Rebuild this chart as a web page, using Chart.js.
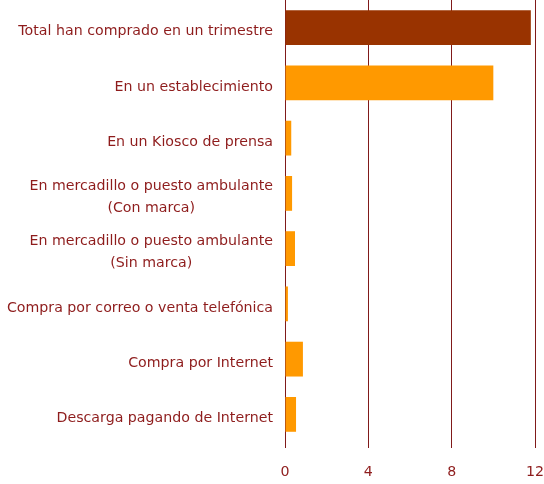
<!DOCTYPE html>
<html>
<head>
<meta charset="utf-8">
<script src="https://cdn.jsdelivr.net/npm/chart.js"></script>
<style>
html,body{margin:0;padding:0;background:#fff;}
#wrap{width:544px;height:484px;position:relative;}
</style>
</head>
<body>
<div id="wrap"><canvas id="c" width="544" height="484"></canvas></div>
<script>
const categories = [
  ["Total han comprado en un trimestre"],
  ["En un establecimiento"],
  ["En un Kiosco de prensa"],
  ["En mercadillo o puesto ambulante", "(Con marca)"],
  ["En mercadillo o puesto ambulante", "(Sin marca)"],
  ["Compra por correo o venta telefónica"],
  ["Compra por Internet"],
  ["Descarga pagando de Internet"]
];
const values = [11.8, 10.0, 0.3, 0.34, 0.48, 0.14, 0.86, 0.53];
const barColors = ["#993300", "#FF9900", "#FF9900", "#FF9900", "#FF9900", "#FF9900", "#FF9900", "#FF9900"];
const xTicks = [0, 4, 8, 12];

const TEXT = "#8E1C1C";
const GRID = "#801A1A";
const FONT_FAMILY = "'DejaVu Sans', sans-serif";
const FONT_SIZE = 14.2;

const labelPlugin = {
  id: 'centeredLabels',
  afterDraw(chart) {
    const y = chart.scales.y;
    const ctx = chart.ctx;
    ctx.save();
    ctx.font = FONT_SIZE + "px " + FONT_FAMILY;
    ctx.fillStyle = TEXT;
    ctx.textAlign = 'center';
    ctx.textBaseline = 'middle';
    const right = chart.chartArea.left - 12;
    const lh = 22;
    categories.forEach((lines, i) => {
      const cy = y.getPixelForValue(i) + 4;
      const w = Math.max(...lines.map(l => ctx.measureText(l).width));
      const cx = right - w / 2;
      const top = cy - (lines.length - 1) * lh / 2;
      lines.forEach((l, j) => ctx.fillText(l, cx, top + j * lh));
    });
    ctx.restore();
  }
};

new Chart(document.getElementById('c'), {
  type: 'bar',
  data: {
    labels: categories.map(l => l.join(' ')),
    datasets: [{
      data: values,
      backgroundColor: barColors,
      borderWidth: 0,
      barPercentage: 0.9,
      categoryPercentage: 0.7
    }]
  },
  options: {
    indexAxis: 'y',
    responsive: false,
    animation: false,
    events: [],
    layout: { padding: 0 },
    plugins: { legend: { display: false }, tooltip: { enabled: false } },
    scales: {
      x: {
        min: 0, max: 12,
        afterBuildTicks(s) { s.ticks = xTicks.map(v => ({ value: v })); },
        grid: { color: GRID, lineWidth: 1, drawTicks: true, tickLength: 6, tickColor: GRID },
        border: { display: false },
        ticks: { color: TEXT, font: { family: FONT_FAMILY, size: FONT_SIZE }, padding: 16 },
        afterFit(s) { s.height = 42; s.paddingLeft = 0; s.paddingRight = 9; }
      },
      y: {
        grid: { display: false },
        border: { display: false },
        ticks: { display: false },
        afterFit(s) { s.width = 285; s.paddingTop = 0; s.paddingBottom = 0; }
      }
    }
  },
  plugins: [labelPlugin]
});
</script>
</body>
</html>
